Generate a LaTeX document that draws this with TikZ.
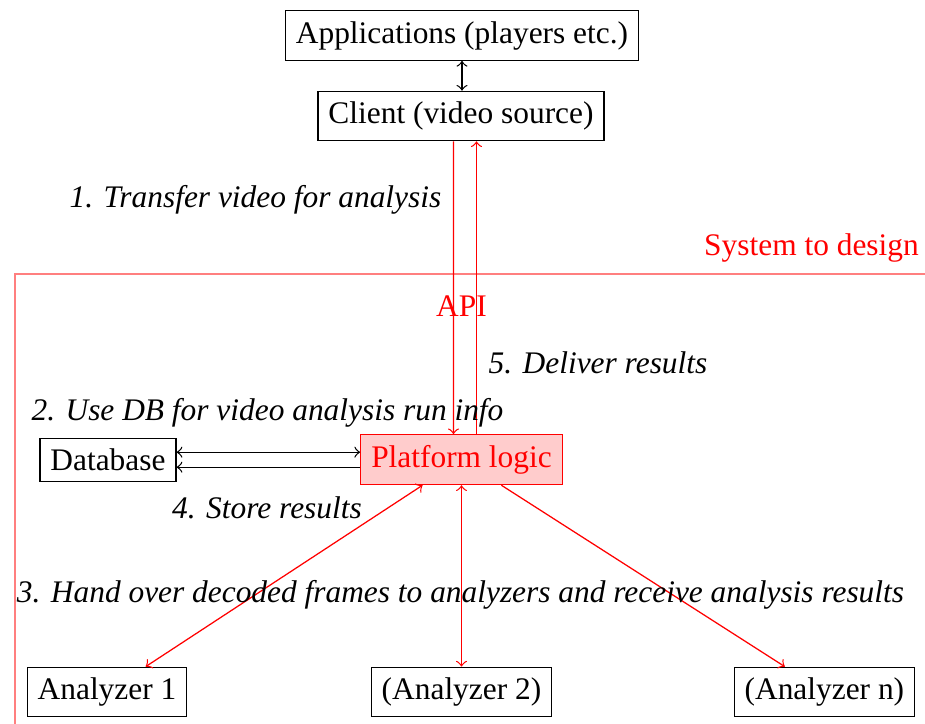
\documentclass[tikz,border=0pt]{standalone}
\usepackage{fontspec}
\setmainfont{Liberation Serif}
\usetikzlibrary{calc}
\tikzset{
  box/.style={draw, font=\fontsize{10}{12}\selectfont},
  platbox/.style={box, draw=red, fill=red!20, text=red},
  lbl/.style={font=\fontsize{10}{12}\selectfont\itshape},
  redlbl/.style={font=\fontsize{10}{12}\selectfont, text=red},
  redlink/.style={red},
  sysframe/.style={draw=red, draw opacity=0.5, line width=0.6pt},
}
\begin{document}
\begin{tikzpicture}[x=0.3185pt, y=-0.3185pt, >=to]
\useasboundingbox (0,0) rectangle (925,724);

% boundary of the system to be designed
\begin{scope}
  \clip (0,0) rectangle (925,724);
  \draw[sysframe] (15,274) rectangle (960,760);
\end{scope}
\node[redlbl] (sys) at (811.5,248) {System to design};
\node[redlbl] (api) at (461.5,306) {API};

% components
\node[box] (app) at (462,35.5) {Applications (players etc.)};
\node[box] (client) at (461,116) {Client (video source)};
\node[platbox] (plat) at (461.5,459.7) {Platform logic};
\node[box] (db) at (108,459.7) {Database};
\node[box] (an1) at (107,692) {Analyzer 1};
\node[box] (an2) at (461.5,692) {(Analyzer 2)};
\node[box] (ann) at (824.4,692) {(Analyzer n)};

% connectors
\draw[<->] (app.south) -- (app.south |- client.north);
\draw[redlink,->] ($(client.south)+(-7.5,0)$) -- ($(plat.north)+(-8,0)$);
\draw[redlink,->] ($(plat.north)+(15,0)$) -- ($(client.south)+(15.5,0)$);
\draw[<->] ($(db.east)+(0,-7.5)$) -- ($(plat.west)+(0,-7.5)$);
\draw[<-] ($(db.east)+(0,7.5)$) -- ($(plat.west)+(0,7.5)$);
\draw[redlink,<->] (plat) -- (an1);
\draw[redlink,<->] (plat.south) -- (an2.north);
\draw[redlink,->] (plat) -- (ann);

% step labels
\node[lbl] (l1) at (255.5,200) {1. Transfer video for analysis};
\node[lbl] (l2) at (267.5,412.5) {2. Use DB for video analysis run info};
\node[lbl] (l3) at (460.5,594.5) {3. Hand over decoded frames to analyzers and receive analysis results};
\node[lbl] (l4) at (267,508) {4. Store results};
\node[lbl] (l5) at (598,363) {5. Deliver results};
\end{tikzpicture}
\end{document}
